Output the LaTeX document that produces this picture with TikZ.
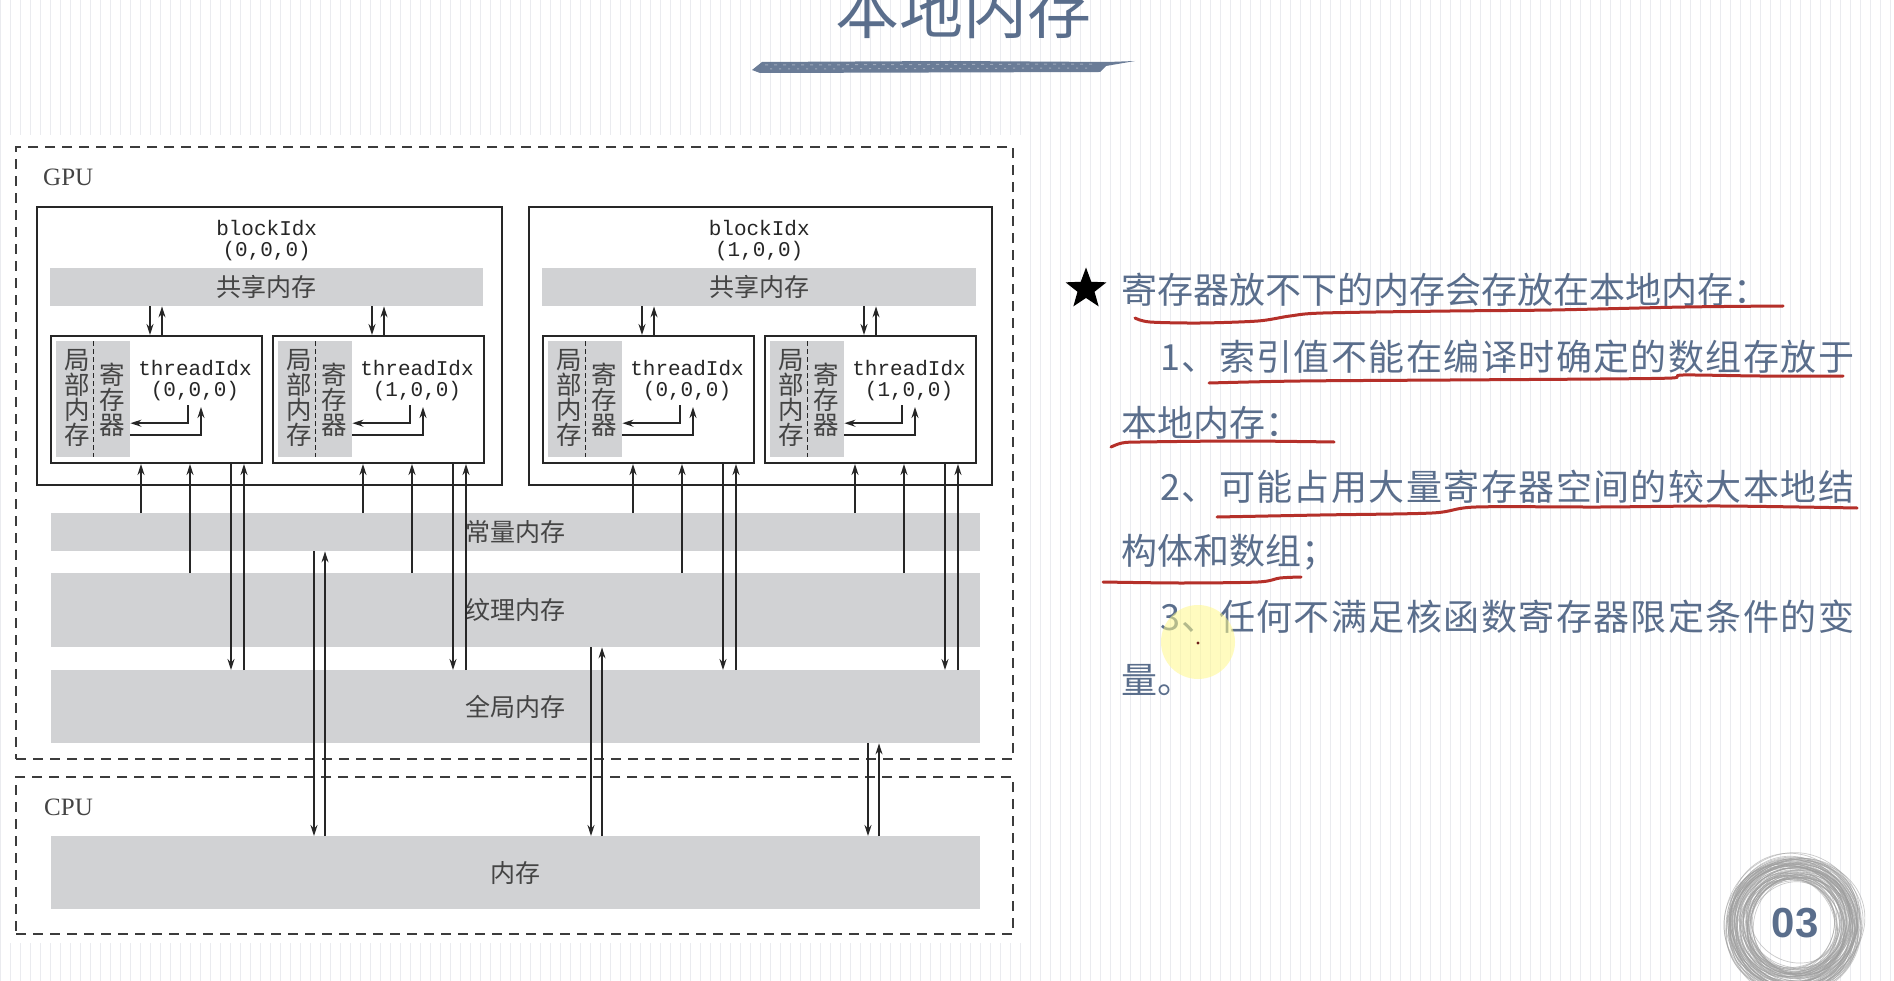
\documentclass[tikz,border=0pt]{standalone}
\usepackage{fontspec}
\setmainfont{Liberation Serif}
\newfontfamily\cjk{Noto Sans CJK SC}
\newfontfamily\cjkwide{Noto Sans CJK SC}[LetterSpace=4]
\newfontfamily\monof{Liberation Mono}
\newfontfamily\arialf{Liberation Sans}
\usepackage{tikz}
\usetikzlibrary{arrows.meta, positioning, calc, shapes.geometric}
\definecolor{slate}{HTML}{5A6E8C}
\definecolor{barg}{HTML}{D1D2D4}
\definecolor{inkg}{HTML}{262626}
\definecolor{labg}{HTML}{444444}
\definecolor{gridc}{HTML}{EAEBEF}
\definecolor{penred}{HTML}{B5302A}
\tikzset{
	dashbox/.style={draw=inkg!90, line width=2.2pt, dash pattern=on 10pt off 7pt, anchor=north west, inner sep=0pt},
	tbox/.style={draw=inkg, line width=2pt, anchor=north west, inner sep=0pt},
	membar/.style={fill=barg, anchor=north west, inner sep=0pt, text=labg, font=\cjk\fontsize{25}{27}\selectfont},
	memarr/.style={-{Stealth[length=11pt, width=7pt]}, line width=1.5pt, draw=inkg},
	slidetext/.style={anchor=west, inner sep=0pt, text=slate, font=\cjk\fontsize{36}{40}\selectfont},
	widetext/.style={slidetext, font=\cjkwide\fontsize{36}{40}\selectfont},
	redline/.style={draw=penred, line width=3pt, line cap=round},
	scrib/.style={draw=gray!75, line width=0.7pt, opacity=0.55},
}

\begin{document}
\begin{tikzpicture}[
		x=1pt, y=-1pt,
		vtext/.style={align=center, inner sep=0pt, text=labg, font=\cjk\fontsize{25.5}{25}\selectfont},
		idxtext/.style={align=center, inner sep=0pt, text=inkg, font=\monof\fontsize{21}{21}\selectfont},
		cornerlabel/.style={inner sep=0pt, text=labg, font=\fontsize{25}{25}\selectfont}
	]
		\clip (0,0) rectangle (1894,981);
		% Slide background
		\fill[white] (0,0) rectangle (1894,981);
		\draw[gridc, line width=0.7pt, step=10] (0,0) grid (1894,981);
		\fill[white] (3,135) rectangle (1030,943);

		% Title
		\node[text=slate, font=\cjk\fontsize{64}{64}\selectfont, anchor=base] (title) at (963,34) {本地内存};
		\fill[slate, opacity=.9] (752,70) -- (762,62) -- (950,61) -- (1108,62) -- (1135,61) -- (1106,66) -- (1100,72) -- (760,73) -- cycle;
		\draw[white, opacity=.35, line width=1pt, dash pattern=on 3pt off 6pt] (765,65) -- (1095,64);
		\draw[white, opacity=.35, line width=1pt, dash pattern=on 2pt off 7pt] (770,69) -- (1090,68);

		% GPU and CPU
		\node[dashbox, minimum width=997, minimum height=612] (gpu) at (15,146) {};
		\node[dashbox, minimum width=997, minimum height=157] (cpu) at (15,776) {};
		\node[cornerlabel, below right=23pt and 28pt of gpu.north west] (gpulab) {GPU};
		\node[cornerlabel, below right=23pt and 29pt of cpu.north west] (cpulab) {CPU};

		% Blocks with shared memory
		\node[tbox, minimum width=465, minimum height=278] (blk0) at (36,206) {};
		\node[tbox, minimum width=463, minimum height=278] (blk1) at (528,206) {};
		\node[membar, minimum width=433, minimum height=38] (sh0) at (50,268) {共享内存};
		\node[membar, minimum width=434, minimum height=38] (sh1) at (542,268) {共享内存};
		\node[idxtext, above=7pt of sh0] (bi0) {blockIdx\\(0,0,0)};
		\node[idxtext, above=7pt of sh1] (bi1) {blockIdx\\(1,0,0)};

		% Device and host memory
		\node[membar, minimum width=929, minimum height=38] (cmem) at (51,513) {常量内存};
		\node[membar, minimum width=929, minimum height=74] (tmem) at (51,573) {纹理内存};
		\node[membar, minimum width=929, minimum height=73] (gmem) at (51,670) {全局内存};
		\node[membar, minimum width=929, minimum height=73] (hmem) at (51,836) {内存};

		% Threads
		\foreach \tn/\tx/\ti/\sb in {ta/50/{(0,0,0)}/sh0, tb/272/{(1,0,0)}/sh0, tc/542/{(0,0,0)}/sh1, td/764/{(1,0,0)}/sh1}{
			\node[tbox, minimum width=211, minimum height=127] (\tn) at (\tx,335) {};
			\node[membar, minimum width=74, minimum height=116] (\tn-g) at ($(\tn.north west)+(6,6)$) {};
			\draw[inkg, line width=1.4pt, dash pattern=on 5pt off 3pt] (\tn-g.north) -- (\tn-g.south);
			\node[vtext] (\tn-l) at ($(\tn-g.center)+(-16,-1.5)$) {局\\部\\内\\存};
			\node[vtext] (\tn-r) at ($(\tn-g.center)+(19,1)$) {寄\\存\\器};
			\node[idxtext] (\tn-i) at ($(\tn.north west)+(145,46)$) {threadIdx\\\ti};
			\draw[memarr] ($(\tn.north west)+(138,70)$) |- ($(\tn-g.east)+(0,24)$);
			\draw[memarr] ($(\tn-g.east)+(0,36)$) -| ($(\tn.north west)+(151,72)$);
			% to shared memory
			\coordinate (\tn1) at ($(\tn.north west)+(100,0)$);
			\coordinate (\tn2) at ($(\tn.north west)+(112,0)$);
			\draw[memarr] (\tn1 |- \sb.south) -- (\tn1);
			\draw[memarr] (\tn2) -- (\tn2 |- \sb.south);
			% to constant, texture and global memory
			\coordinate (\tn3) at ($(\tn.south west)+(91,0)$);
			\coordinate (\tn4) at ($(\tn.south west)+(140,0)$);
			\coordinate (\tn5) at ($(\tn.south west)+(181,0)$);
			\coordinate (\tn6) at ($(\tn.south west)+(194,0)$);
			\draw[memarr] (\tn3 |- cmem.north) -- (\tn3);
			\draw[memarr] (\tn4 |- tmem.north) -- (\tn4);
			\draw[memarr] (\tn5) -- (\tn5 |- gmem.north);
			\draw[memarr] (\tn6 |- gmem.north) -- (\tn6);
		}

		% Host transfers
		\foreach \hx/\src in {314/cmem, 591/tmem, 868/gmem}{
			\coordinate (hd\src) at (\hx,0);
			\coordinate (hu\src) at (\hx+11,0);
			\draw[memarr] (hd\src |- \src.south) -- (hd\src |- hmem.north);
			\draw[memarr] (hu\src |- hmem.north) -- (hu\src |- \src.south);
		}

		% Notes
		\node[star, star points=5, star point ratio=2.4, fill=black, minimum size=43, inner sep=0pt] (star) at (1086,289) {};
		\node[slidetext] (l1) at (1121,290) {寄存器放不下的内存会存放在本地内存：};
		\node[widetext] (l2) at (1160,357) {1、索引值不能在编译时确定的数组存放于};
		\node[slidetext] (l3) at (1121,423) {本地内存：};
		\node[widetext] (l4) at (1160,487) {2、可能占用大量寄存器空间的较大本地结};
		\node[slidetext] (l5) at (1121,552) {构体和数组；};
		\node[widetext] (l6) at (1160,617) {3、任何不满足核函数寄存器限定条件的变};
		\node[slidetext] (l7) at (1121,680) {量。};

		% Pen marks
		\draw[redline] plot[smooth] coordinates {(1135,318) (1150,322) (1200,323) (1258,321) (1290,316) (1323,313) (1450,311) (1552,310) (1685,307) (1783,306)};
		\draw[redline] plot[smooth] coordinates {(1209,383) (1300,381) (1450,380) (1600,379) (1672,378) (1683,375) (1760,376) (1843,376)};
		\draw[redline] plot[smooth] coordinates {(1111,447) (1122,443) (1140,442) (1240,441) (1334,442)};
		\draw[redline] plot[smooth] coordinates {(1217,517) (1320,515) (1432,513) (1476,507) (1600,507) (1721,506) (1857,508)};
		\draw[redline] plot[smooth] coordinates {(1103,582) (1180,583) (1258,582) (1280,578) (1301,577)};
		\fill[yellow!45, opacity=.55] (1198,642) circle (37);
		\fill[penred!60!black] (1198,643) circle (1.6);

		% Page number
		\pgfmathsetseed{42}
		\foreach \k in {1,...,75}{
			\pgfmathsetmacro\rr{46+24*rnd}
			\pgfmathsetmacro\rq{\rr*(0.86+0.1*rnd)}
			\pgfmathsetmacro\ang{180*rnd}
			\pgfmathsetmacro\dx{8*rnd-4}
			\pgfmathsetmacro\dy{8*rnd-4}
			\draw[scrib, rotate around={\ang:(1794+\dx,924+\dy)}] (1794+\dx,924+\dy) ellipse ({\rr} and {\rq});
		}
		\node[text=slate, font=\arialf\bfseries\fontsize{42}{42}\selectfont] (pagenum) at (1795,923) {03};
	\end{tikzpicture}
\end{document}
